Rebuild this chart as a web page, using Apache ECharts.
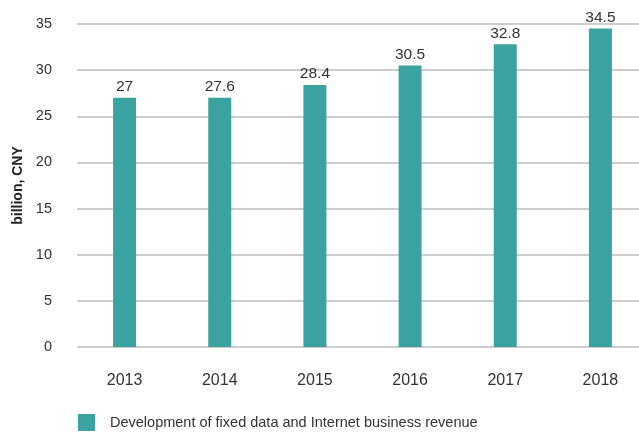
<!DOCTYPE html>
<html><head><meta charset="utf-8">
<script src="https://cdn.jsdelivr.net/npm/echarts@6/dist/echarts.min.js"></script>
<style>html,body{margin:0;padding:0;background:#fff}#c{width:639px;height:432px}</style>
</head><body><div id="c"></div>
<script>
const categories = ['2013','2014','2015','2016','2017','2018'];
const barValues = [27, 27, 28.4, 30.5, 32.8, 34.5];
const labelTexts = ['27', '27.6', '28.4', '30.5', '32.8', '34.5'];
const yTicks = [0, 5, 10, 15, 20, 25, 30, 35];
const seriesName = 'Development of fixed data and Internet business revenue';
const font = 'Helvetica Neue, Liberation Sans, Arial, sans-serif';
const chart = echarts.init(document.getElementById('c'));
chart.setOption({
  animation: false,
  grid: {left: 77, top: 24, width: 571, bottom: 85, outerBoundsMode: 'none', containLabel: false},
  legend: {
    data: [seriesName], left: 73, top: 409, padding: 5, itemWidth: 17, itemHeight: 17, itemGap: 10,
    icon: 'rect',
    textStyle: {fontFamily: font, fontSize: 14.5, color: '#333', padding: [0, 0, 0, 10]}
  },
  xAxis: {
    type: 'category', data: categories,
    axisLine: {show: false}, axisTick: {show: false},
    axisLabel: {margin: 26, fontFamily: font, fontSize: 16, color: '#333'}
  },
  yAxis: {
    type: 'value', min: yTicks[0], max: yTicks[yTicks.length-1], interval: 5,
    name: 'billion, CNY', nameLocation: 'middle', nameGap: 52,
    nameTextStyle: {fontFamily: font, fontSize: 14, fontWeight: 'bold', color: '#222'},
    axisLine: {show: false}, axisTick: {show: false},
    axisLabel: {margin: 25, fontFamily: font, fontSize: 14.5, color: '#333'},
    splitLine: {lineStyle: {color: '#bdbdbd', width: 1.5}}
  },
  series: [{
    name: seriesName, type: 'bar', data: barValues, barWidth: 23,
    itemStyle: {color: '#3aa3a2'},
    label: {show: true, position: 'top', distance: 3, fontFamily: font, fontSize: 15.5, color: '#333',
      formatter: p => labelTexts[p.dataIndex]}
  }]
});
</script></body></html>
